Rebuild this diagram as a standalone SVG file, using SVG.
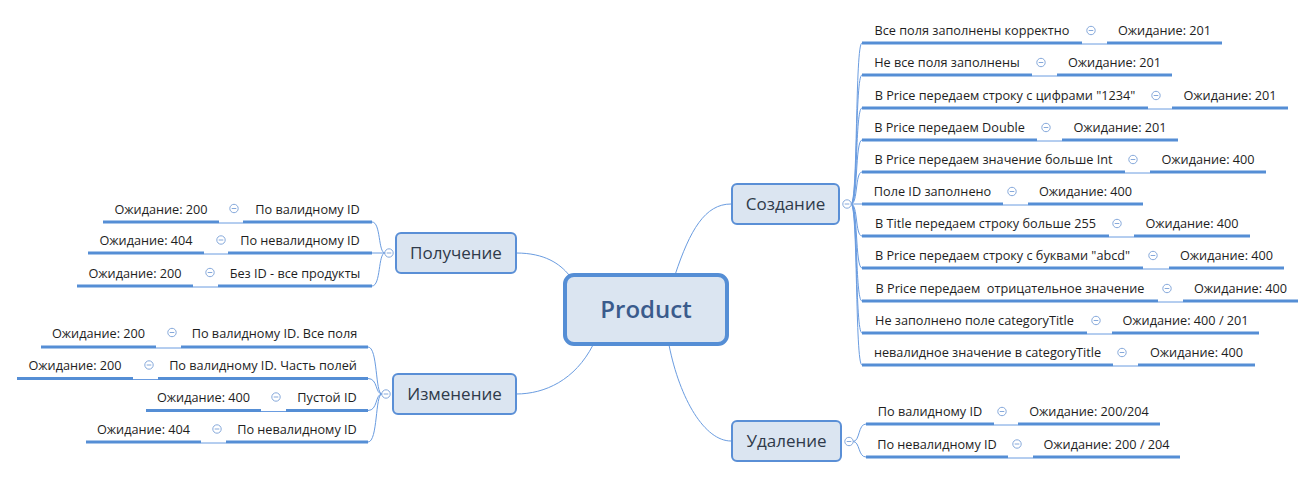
<svg xmlns="http://www.w3.org/2000/svg" width="1316" height="479" viewBox="0 0 1316 479">
<style>
text{font-family:"Open Sans","Liberation Sans",sans-serif;}
.leaf{font-size:12.7px;fill:#1e1e1e;text-anchor:middle;}
.ul{stroke:#558ed5;stroke-width:3;fill:none;}
.con{stroke:#6a9ce0;stroke-width:1;fill:none;}
.box{fill:#dbe5f1;stroke:#5a8fd6;stroke-width:2;}
.main{fill:#dbe5f1;stroke:#558ed5;stroke-width:4;}
.lbl{font-size:17px;fill:#2f3a4a;text-anchor:middle;}
.root{font-size:24px;font-weight:600;fill:#3a5b8c;text-anchor:middle;}
.col{fill:#fff;stroke:#86a9db;stroke-width:1;}
.min{stroke:#86a9db;stroke-width:1;}
</style>
<defs>
<g id="collapse"><circle class="col" r="4.2"/><line class="min" x1="-2.3" y1="0" x2="2.3" y2="0"/></g>
</defs>
<g id="connectors">
<path class="con" d="M516,253 C545,253 560,264 569,275"/>
<path class="con" d="M675,275 C690,230 705,204 731,204"/>
<path class="con" d="M593,345 C575,380 545,394 516,394"/>
<path class="con" d="M669,345 C680,400 705,441 731,441"/>
<path class="con" d="M851,204 C858,204 855,43 862,43"/>
<path class="con" d="M851,204 C858,204 855,75 862,75"/>
<path class="con" d="M851,204 C858,204 855,108 862,108"/>
<path class="con" d="M851,204 C858,204 855,140 862,140"/>
<path class="con" d="M851,204 C858,204 855,172 862,172"/>
<path class="con" d="M851,204 L862,204"/>
<path class="con" d="M851,204 C858,204 855,236 862,236"/>
<path class="con" d="M851,204 C858,204 855,268 862,268"/>
<path class="con" d="M851,204 C858,204 855,301 862,301"/>
<path class="con" d="M851,204 C858,204 855,333 862,333"/>
<path class="con" d="M851,204 C858,204 855,365 862,365"/>
<path class="con" d="M853,441.5 C860,441.5 858,424 866,424"/>
<path class="con" d="M853,441.5 C860,441.5 858,457 866,457"/>
<path class="con" d="M385,253 C378,253 381,222 372,222"/>
<path class="con" d="M385,253 L372,253"/>
<path class="con" d="M385,253 C378,253 381,286 372,286"/>
<path class="con" d="M382,394 C375,394 378,347 368,347"/>
<path class="con" d="M382,394 C375,394 378,378.5 368,378.5"/>
<path class="con" d="M382,394 C375,394 378,410.5 368,410.5"/>
<path class="con" d="M382,394 C375,394 378,442 368,442"/>
<path class="con" d="M1082,44 H1107"/>
<path class="con" d="M1032,76 H1057"/>
<path class="con" d="M1148,109 H1172"/>
<path class="con" d="M1037,141 H1062"/>
<path class="con" d="M1125,173 H1150"/>
<path class="con" d="M1003,205 H1028"/>
<path class="con" d="M1109,237 H1134"/>
<path class="con" d="M1143,269 H1169"/>
<path class="con" d="M1158,302 H1183"/>
<path class="con" d="M1087,334 H1112"/>
<path class="con" d="M1113,366 H1138"/>
<path class="con" d="M994,425 H1018"/>
<path class="con" d="M1008,458 H1033"/>
<path class="con" d="M219,223 H243"/>
<path class="con" d="M204,254 H228"/>
<path class="con" d="M193,287 H218"/>
<path class="con" d="M156,348 H181"/>
<path class="con" d="M133,379.5 H158"/>
<path class="con" d="M261,411.5 H286"/>
<path class="con" d="M201,443 H226"/>
</g>
<g id="product"><rect class="main" x="565" y="275" width="162" height="69" rx="9"/><text class="root" x="646" y="318">Product</text></g>
<g id="sozdanie"><rect class="box" x="732" y="184" width="107" height="40" rx="5"/><text class="lbl" x="785.5" y="210">Создание</text><use href="#collapse" x="847" y="204"/></g>
<g id="udalenie"><rect class="box" x="732" y="421" width="109" height="40" rx="5"/><text class="lbl" x="786.5" y="447">Удаление</text><use href="#collapse" x="849" y="441.5"/></g>
<g id="poluchenie"><rect class="box" x="396" y="233" width="120" height="40" rx="5"/><text class="lbl" x="456" y="259">Получение</text><use href="#collapse" x="389" y="253"/></g>
<g id="izmenenie"><rect class="box" x="393" y="374" width="123" height="40" rx="5"/><text class="lbl" x="454.5" y="400">Изменение</text><use href="#collapse" x="386" y="394"/></g>

<g id="s1"><path class="ul" d="M862,43 H1082"/><text class="leaf" x="972" y="35">Все поля заполнены корректно</text><use href="#collapse" x="1091" y="30.5"/></g>
<g id="s1r"><path class="ul" d="M1107,43 H1222"/><text class="leaf" x="1164.5" y="35">Ожидание: 201</text></g>
<g id="s2"><path class="ul" d="M862,75 H1032"/><text class="leaf" x="947" y="67">Не все поля заполнены</text><use href="#collapse" x="1041" y="62.5"/></g>
<g id="s2r"><path class="ul" d="M1057,75 H1172"/><text class="leaf" x="1114.5" y="67">Ожидание: 201</text></g>
<g id="s3"><path class="ul" d="M862,108 H1148"/><text class="leaf" x="1005" y="100">В Price передаем строку с цифрами "1234"</text><use href="#collapse" x="1156" y="95.5"/></g>
<g id="s3r"><path class="ul" d="M1172,108 H1288"/><text class="leaf" x="1230" y="100">Ожидание: 201</text></g>
<g id="s4"><path class="ul" d="M862,140 H1037"/><text class="leaf" x="949.5" y="132">В Price передаем Double</text><use href="#collapse" x="1046" y="127.5"/></g>
<g id="s4r"><path class="ul" d="M1062,140 H1178"/><text class="leaf" x="1120" y="132">Ожидание: 201</text></g>
<g id="s5"><path class="ul" d="M862,172 H1125"/><text class="leaf" x="993.5" y="164">В Price передаем значение больше Int</text><use href="#collapse" x="1133" y="159.5"/></g>
<g id="s5r"><path class="ul" d="M1150,172 H1266"/><text class="leaf" x="1208" y="164">Ожидание: 400</text></g>
<g id="s6"><path class="ul" d="M862,204 H1003"/><text class="leaf" x="932.5" y="196">Поле ID заполнено</text><use href="#collapse" x="1012" y="191.5"/></g>
<g id="s6r"><path class="ul" d="M1028,204 H1143"/><text class="leaf" x="1085.5" y="196">Ожидание: 400</text></g>
<g id="s7"><path class="ul" d="M862,236 H1109"/><text class="leaf" x="985.5" y="228">В Title передаем строку больше 255</text><use href="#collapse" x="1117" y="223.5"/></g>
<g id="s7r"><path class="ul" d="M1134,236 H1250"/><text class="leaf" x="1192" y="228">Ожидание: 400</text></g>
<g id="s8"><path class="ul" d="M862,268 H1143"/><text class="leaf" x="1002.5" y="260">В Price передаем строку с буквами "abcd"</text><use href="#collapse" x="1153" y="255.5"/></g>
<g id="s8r"><path class="ul" d="M1169,268 H1284"/><text class="leaf" x="1226.5" y="260">Ожидание: 400</text></g>
<g id="s9"><path class="ul" d="M862,301 H1158"/><text class="leaf" x="1010" y="293" xml:space="preserve">В Price передаем  отрицательное значение</text><use href="#collapse" x="1167" y="288.5"/></g>
<g id="s9r"><path class="ul" d="M1183,301 H1298"/><text class="leaf" x="1240.5" y="293">Ожидание: 400</text></g>
<g id="s10"><path class="ul" d="M862,333 H1087"/><text class="leaf" x="974.5" y="325">Не заполнено поле categoryTitle</text><use href="#collapse" x="1096" y="320.5"/></g>
<g id="s10r"><path class="ul" d="M1112,333 H1259"/><text class="leaf" x="1185.5" y="325">Ожидание: 400 / 201</text></g>
<g id="s11"><path class="ul" d="M862,365 H1113"/><text class="leaf" x="987.5" y="357">невалидное значение в categoryTitle</text><use href="#collapse" x="1122" y="352.5"/></g>
<g id="s11r"><path class="ul" d="M1138,365 H1255"/><text class="leaf" x="1196.5" y="357">Ожидание: 400</text></g>

<g id="u1"><path class="ul" d="M866,424 H994"/><text class="leaf" x="930" y="416">По валидному ID</text><use href="#collapse" x="1002" y="411.5"/></g>
<g id="u1r"><path class="ul" d="M1018,424 H1160"/><text class="leaf" x="1089" y="416">Ожидание: 200/204</text></g>
<g id="u2"><path class="ul" d="M866,457 H1008"/><text class="leaf" x="937" y="449">По невалидному ID</text><use href="#collapse" x="1017" y="444"/></g>
<g id="u2r"><path class="ul" d="M1033,457 H1180"/><text class="leaf" x="1106.5" y="449">Ожидание: 200 / 204</text></g>

<g id="p1"><path class="ul" d="M243,222 H372"/><text class="leaf" x="307.5" y="213.5">По валидному ID</text><use href="#collapse" x="234" y="208.5"/></g>
<g id="p1l"><path class="ul" d="M103,222 H219"/><text class="leaf" x="161" y="213.5">Ожидание: 200</text></g>
<g id="p2"><path class="ul" d="M228,253 H372"/><text class="leaf" x="300" y="245">По невалидному ID</text><use href="#collapse" x="221" y="240"/></g>
<g id="p2l"><path class="ul" d="M88,253 H204"/><text class="leaf" x="146" y="245">Ожидание: 404</text></g>
<g id="p3"><path class="ul" d="M218,286 H372"/><text class="leaf" x="295" y="277.5">Без ID - все продукты</text><use href="#collapse" x="210" y="272.5"/></g>
<g id="p3l"><path class="ul" d="M77,286 H193"/><text class="leaf" x="135" y="277.5">Ожидание: 200</text></g>

<g id="i1"><path class="ul" d="M181,347 H368"/><text class="leaf" x="274.5" y="337.5">По валидному ID. Все поля</text><use href="#collapse" x="172" y="332.5"/></g>
<g id="i1l"><path class="ul" d="M41,347 H156"/><text class="leaf" x="98.5" y="337.5">Ожидание: 200</text></g>
<g id="i2"><path class="ul" d="M158,378.5 H368"/><text class="leaf" x="263" y="370">По валидному ID. Часть полей</text><use href="#collapse" x="149" y="365"/></g>
<g id="i2l"><path class="ul" d="M17,378.5 H133"/><text class="leaf" x="75" y="370">Ожидание: 200</text></g>
<g id="i3"><path class="ul" d="M286,410.5 H368"/><text class="leaf" x="327" y="402">Пустой ID</text><use href="#collapse" x="276" y="397"/></g>
<g id="i3l"><path class="ul" d="M146,410.5 H261"/><text class="leaf" x="203.5" y="402">Ожидание: 400</text></g>
<g id="i4"><path class="ul" d="M226,442 H368"/><text class="leaf" x="297" y="434">По невалидному ID</text><use href="#collapse" x="217" y="429"/></g>
<g id="i4l"><path class="ul" d="M86,442 H201"/><text class="leaf" x="143.5" y="434">Ожидание: 404</text></g>
</svg>
